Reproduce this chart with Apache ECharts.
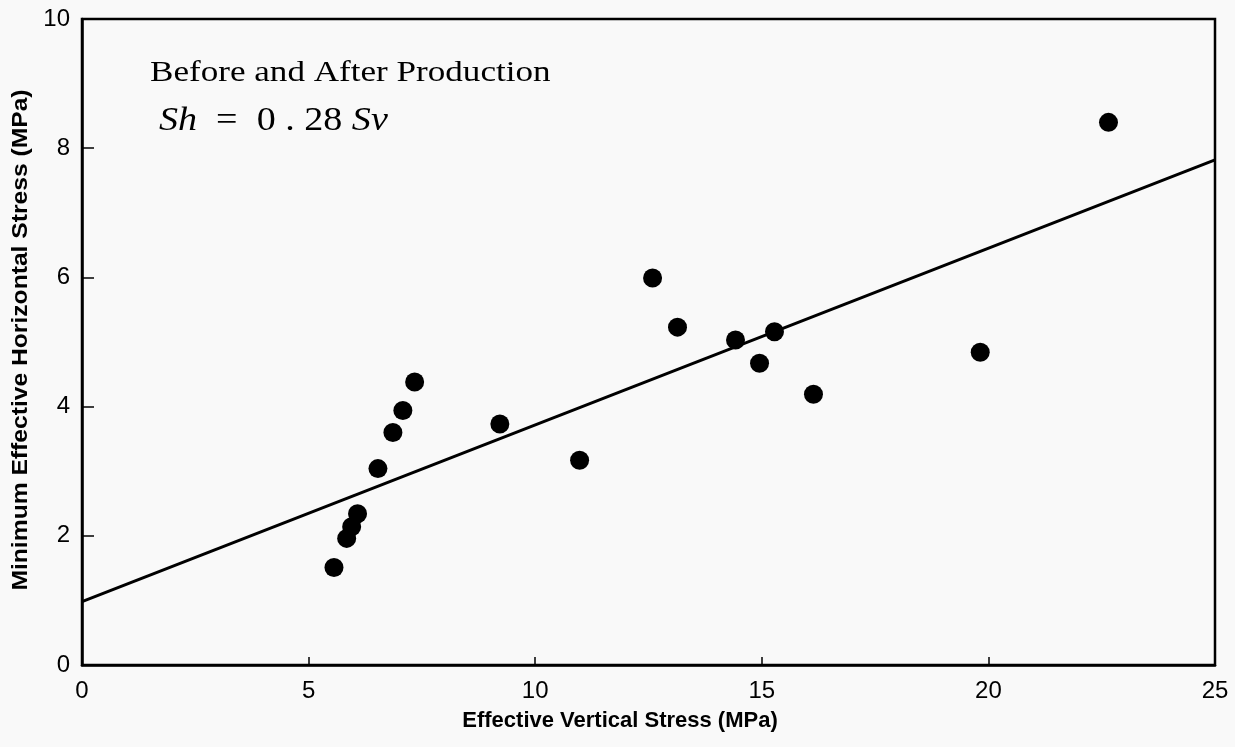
<!DOCTYPE html>
<html>
<head>
<meta charset="utf-8">
<script src="https://cdn.jsdelivr.net/npm/echarts@6/dist/echarts.min.js"></script>
<style>
html,body{margin:0;padding:0;background:#f9f9f9;}
#c{width:1235px;height:747px;}
</style>
</head>
<body>
<div id="c"></div>
<script>
// Data
const sv = [5.56, 5.84, 5.95, 6.08, 6.53, 6.86, 7.08, 7.34, 9.22, 10.98, 12.59, 13.14, 14.42, 14.95, 15.28, 16.14, 19.82, 22.65];
const sh = [1.51, 1.96, 2.14, 2.34, 3.04, 3.60, 3.94, 4.38, 3.73, 3.17, 5.99, 5.23, 5.03, 4.67, 5.16, 4.19, 4.84, 8.40];
const fitX = [0, 25];
const fitY = [0.98, 7.82];
const xTicks = [0, 5, 10, 15, 20, 25];
const yTicks = [0, 2, 4, 6, 8, 10];
const xTitle = 'Effective Vertical Stress (MPa)';
const yTitle = 'Minimum Effective Horizontal Stress (MPa)';
const note1 = 'Before and After Production';
const note2Parts = ['Sh', '  =  0 . 28 ', 'Sv'];

const chart = echarts.init(document.getElementById('c'), null, {renderer: 'canvas'});
const sans = 'Liberation Sans, Arial, sans-serif';
const serif = '"Liberation Serif", "Times New Roman", serif';
chart.setOption({
  backgroundColor: '#f9f9f9',
  animation: false,
  grid: {left: 82, right: 20, top: 19, bottom: 82, show: true, borderColor: '#000', borderWidth: 2.5, backgroundColor: 'transparent'},
  xAxis: {
    type: 'value', min: xTicks[0], max: xTicks[xTicks.length - 1], interval: 5,
    axisLine: {lineStyle: {color: '#000', width: 2.5}},
    axisTick: {inside: true, length: 8, lineStyle: {color: '#000', width: 1.5}},
    axisLabel: {margin: 14, color: '#000', fontFamily: sans, fontSize: 24},
    splitLine: {show: false}
  },
  yAxis: {
    type: 'value', min: yTicks[0], max: yTicks[yTicks.length - 1], interval: 2,
    axisLine: {lineStyle: {color: '#000', width: 2.5}},
    axisTick: {inside: true, length: 12, lineStyle: {color: '#000', width: 1.5}},
    axisLabel: {margin: 12, color: '#000', fontFamily: sans, fontSize: 24},
    splitLine: {show: false}
  },
  graphic: [
    {type: 'text', x: 21, y: 340, rotation: Math.PI / 2, scaleX: 1.12,
      style: {text: yTitle, fill: '#000', font: 'bold 22px ' + sans, textAlign: 'center', textVerticalAlign: 'middle'}},
    {type: 'text', x: 620, y: 721,
      style: {text: xTitle, fill: '#000', font: 'bold 22px ' + sans, textAlign: 'center', textVerticalAlign: 'middle'}},
    {type: 'text', x: 150, y: 58, scaleX: 1.17,
      style: {text: note1, fill: '#000', font: '30px ' + serif}},
    {type: 'text', x: 159, y: 104, scaleX: 1.12,
      style: {
        text: '{i|' + note2Parts[0] + '}{n|' + note2Parts[1] + '}{i|' + note2Parts[2] + '}',
        rich: {
          i: {fontFamily: serif, fontSize: 34, fontStyle: 'italic', fill: '#000'},
          n: {fontFamily: serif, fontSize: 34, fill: '#000'}
        }
      }}
  ],
  series: [
    {
      type: 'line', data: fitX.map((x, i) => [x, fitY[i]]), symbol: 'none',
      lineStyle: {color: '#000', width: 3}, z: 2
    },
    {
      type: 'scatter', data: sv.map((x, i) => [x, sh[i]]), symbol: 'circle', symbolSize: 19,
      itemStyle: {color: '#000', opacity: 1}, z: 3
    }
  ]
});
</script>
</body>
</html>
